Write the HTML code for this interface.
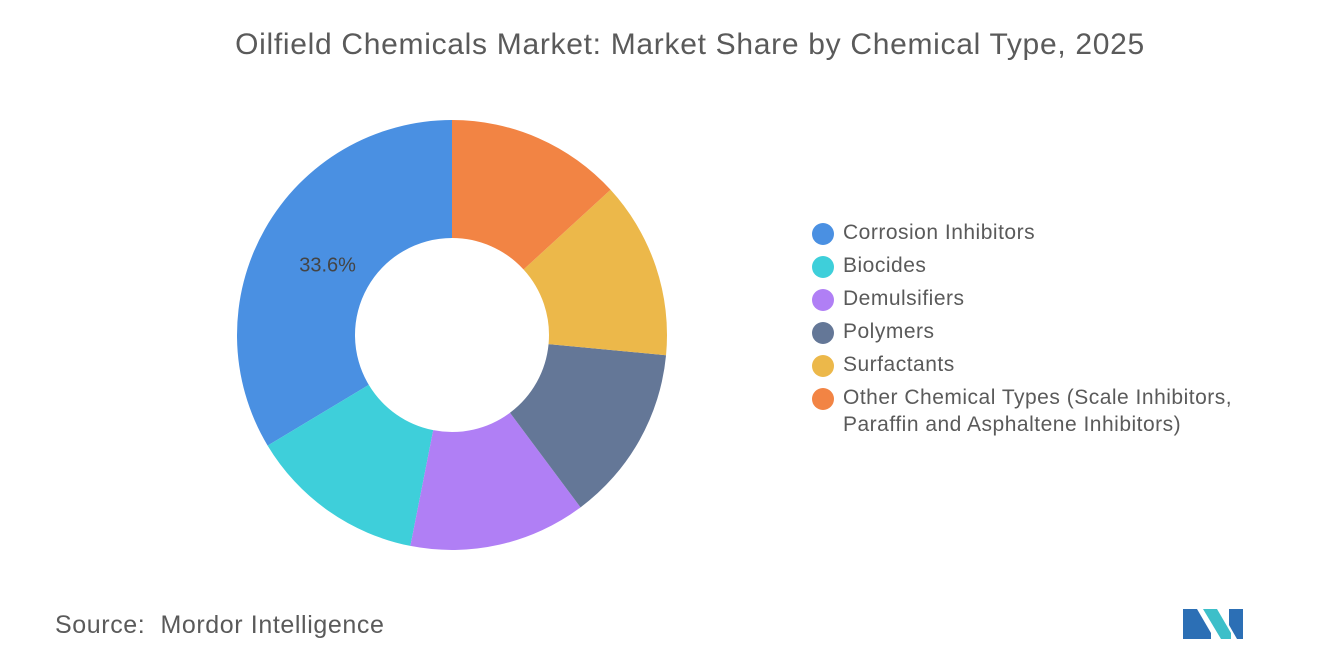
<!DOCTYPE html>
<html><head><meta charset="utf-8"><style>
body{margin:0;background:#fff;font-family:"Liberation Sans",sans-serif;}
#wrap{position:relative;width:1320px;height:665px;overflow:hidden;}
.title{position:absolute;left:30px;width:1320px;top:28px;text-align:center;font-size:30px;letter-spacing:0.7px;color:#5a5a5a;}
.leg{position:absolute;left:812px;font-size:21px;letter-spacing:0.5px;color:#5a5a5a;line-height:27px;white-space:nowrap;}
.leg .dot{position:absolute;left:0;top:4px;width:22px;height:22px;border-radius:50%;}
.leg span.t{margin-left:31px;display:block;}
.src{position:absolute;left:55px;top:611px;font-size:25px;letter-spacing:0.6px;color:#5a5a5a;}
</style></head><body>
<div id="wrap">
<div class="title">Oilfield Chemicals Market: Market Share by Chemical Type, 2025</div>
<svg id="pie" width="1320" height="665" style="position:absolute;left:0;top:0"></svg>
<div id="legend"></div>
<div class="src">Source:&nbsp; Mordor Intelligence</div>
<svg style="position:absolute;left:1183px;top:603px" width="68" height="36">
<polygon points="0,36 0,6 14,6 28,30 28,36" fill="#2c6fb5"/>
<polygon points="20,6 34,6 48,30 48,36 38,36" fill="#3dbfc9"/>
<polygon points="46,6 60,6 60,36 54,36 46,22" fill="#2c6fb5"/>
</svg>
</div>
<script>
const categories=["Corrosion Inhibitors","Biocides","Demulsifiers","Polymers","Surfactants","Other Chemical Types (Scale Inhibitors,|Paraffin and Asphaltene Inhibitors)"];
const values=[33.6,13.3,13.3,13.3,13.3,13.2];
const labels=["33.6%","","","","",""];
const colors=["#4a90e2","#3ecfda","#b07ff5","#647797","#ecb84a","#f28444"];
const cx=452,cy=335,R=215,r=97;
const svg=document.getElementById('pie');
const NS="http://www.w3.org/2000/svg";
const total=values.reduce((a,b)=>a+b,0);
function pt(a,rad){return [cx+rad*Math.sin(a),cy-rad*Math.cos(a)];}
let acc=0;
values.forEach((v,i)=>{
  const a0=-acc/total*2*Math.PI; acc+=v; const a1=-acc/total*2*Math.PI;
  const large=(v/total>0.5)?1:0;
  const p0=pt(a0,R),p1=pt(a1,R),q1=pt(a1,r),q0=pt(a0,r);
  const d=`M${p0} A${R},${R} 0 ${large} 0 ${p1} L${q1} A${r},${r} 0 ${large} 1 ${q0} Z`;
  const p=document.createElementNS(NS,'path');
  p.setAttribute('d',d);p.setAttribute('fill',colors[i]);
  
  
  svg.appendChild(p);
  if(labels[i]){
    const am=(a0+a1)/2;const lp=pt(am,143);
    const t=document.createElementNS(NS,'text');
    t.setAttribute('x',lp[0]);t.setAttribute('y',lp[1]+7);
    t.setAttribute('text-anchor','middle');t.setAttribute('font-size','20');
    t.setAttribute('fill','#444');t.setAttribute('font-family','Liberation Sans, sans-serif');
    t.textContent=labels[i];
    
    
    svg.appendChild(t);
  }
});
const lg=document.getElementById('legend');
let y=219;
categories.forEach((c,i)=>{
  const d=document.createElement('div');
  d.className='leg';d.style.top=y+'px';
  
  
  d.innerHTML=`<div class="dot" style="background:${colors[i]}"></div><span class="t">${c.split('|').join('<br>')}</span>`;
  lg.appendChild(d);
  y+=33;
});
</script>
</body></html>
